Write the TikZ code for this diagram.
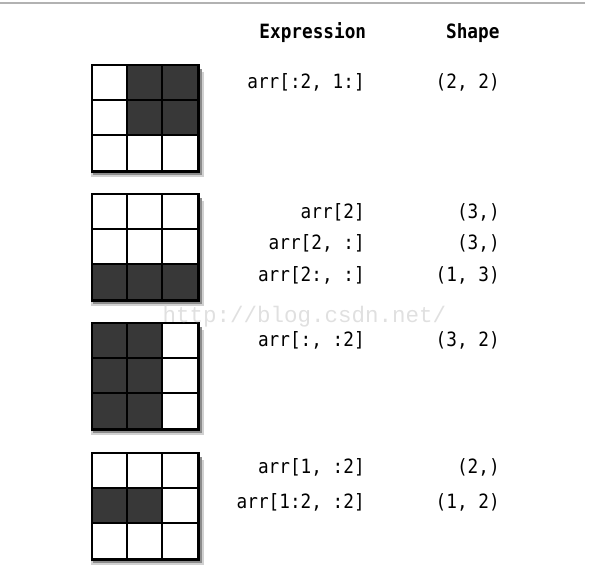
\documentclass[tikz,border=0pt]{standalone}
\usepackage{fontspec}
\setmonofont{DejaVu Sans Mono}
\newfontfamily\wmfont{Liberation Mono}
\usepackage{tikz}
\usetikzlibrary{positioning}

\tikzset{
frame/.style={minimum size=2.64cm,inner sep=0pt,anchor=north west},
darkcell/.style={fill=black!78},
cellline/.style={black,line width=1.3pt},
expr/.style={anchor=east,inner sep=0pt,
font=\ttfamily\fontsize{14}{16}\selectfont\addfontfeatures{FakeStretch=0.9}},
head/.style={inner sep=0pt,
font=\ttfamily\bfseries\fontsize{14}{16}\selectfont\addfontfeatures{FakeStretch=0.9}}
}

\begin{document}
\begin{tikzpicture}
\useasboundingbox(0,0)rectangle(14.75,14.575);
\draw[black!30,line width=1.5pt](0,14.5)--(14.62,14.5);

% headers
\node[head](HE)at(7.82,13.75){Expression};
\node[head](HS)at(11.82,13.75){Shape};

% the four arrays
\node[frame](A1)at(2.3,12.95){};
\node[frame](A2)at(2.3,9.725){};
\node[frame](A3)at(2.3,6.5){};
\node[frame](A4)at(2.3,3.25){};

\foreach \n in {1,...,4}{
\fill[black!18]([shift={(-0.5pt,-5pt)}]A\n.north west)rectangle
([shift={(4.5pt,-4.5pt)}]A\n.south east);
\fill[black!45]([shift={(1pt,-3pt)}]A\n.north west)rectangle
([shift={(3pt,-3pt)}]A\n.south east);
\fill[white](A\n.north west)rectangle(A\n.south east);
}

\fill[darkcell]([xshift=0.88cm]A1.north west)rectangle([yshift=-1.76cm]A1.north east);
\fill[darkcell]([yshift=0.88cm]A2.south west)rectangle(A2.south east);
\fill[darkcell](A3.north west)rectangle([xshift=-0.88cm]A3.south east);
\fill[darkcell]([yshift=-0.88cm]A4.north west)rectangle
([xshift=-0.88cm,yshift=0.88cm]A4.south east);

\foreach \n in {1,...,4}{
\foreach \s in {0.88,1.76}{
\draw[cellline]([xshift=\s cm]A\n.north west)--([xshift=\s cm]A\n.south west);
\draw[cellline]([yshift=-\s cm]A\n.north west)--([yshift=-\s cm]A\n.north east);
}
\draw[black,line width=2pt](A\n.north west)rectangle(A\n.south east);
}

% watermark
\node[black!12,inner sep=0pt,font=\wmfont\fontsize{16}{18}\selectfont](WM)
at(7.61,6.66){http://blog.csdn.net/};

% expressions and shapes
\node[expr](E1)at(9.125,12.525){arr[:2, 1:]};
\node[expr](S1)at(12.5,12.525){(2, 2)};
\node[expr](E2)at(9.125,9.275){arr[2]};
\node[expr](S2)at(12.5,9.275){(3,)};
\node[expr](E3)at(9.125,8.5){arr[2, :]};
\node[expr](S3)at(12.5,8.5){(3,)};
\node[expr](E4)at(9.125,7.7){arr[2:, :]};
\node[expr](S4)at(12.5,7.7){(1, 3)};
\node[expr](E5)at(9.125,6.075){arr[:, :2]};
\node[expr](S5)at(12.5,6.075){(3, 2)};
\node[expr](E6)at(9.125,2.9){arr[1, :2]};
\node[expr](S6)at(12.5,2.9){(2,)};
\node[expr](E7)at(9.125,2.025){arr[1:2, :2]};
\node[expr](S7)at(12.5,2.025){(1, 2)};
\end{tikzpicture}
\end{document}
